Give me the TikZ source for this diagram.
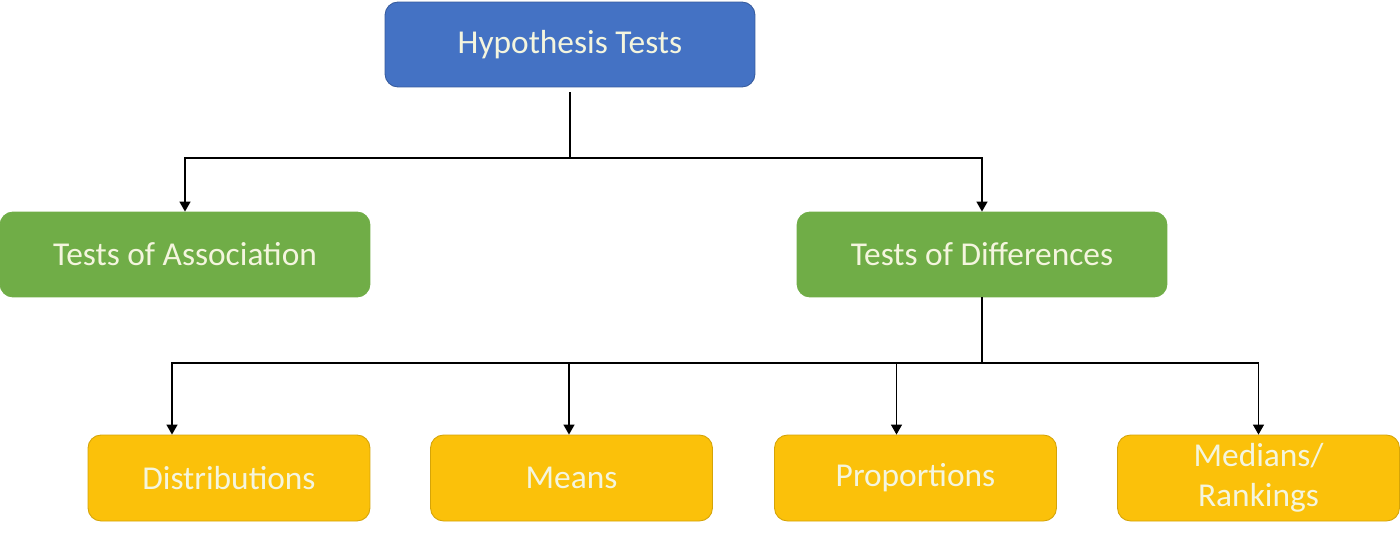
\documentclass[tikz,border=0pt]{standalone}
\usepackage{fontspec}
\setmainfont{Carlito}
\usepackage{xcolor}
\usetikzlibrary{arrows.meta}
\usetikzlibrary{calc}
\usetikzlibrary{positioning}

\definecolor{hblue}{RGB}{68,114,196}
\definecolor{hgreen}{RGB}{112,173,71}
\definecolor{horange}{RGB}{251,193,10}
\definecolor{hcream}{RGB}{244,245,222}

\begin{document}
\begin{tikzpicture}[x=0.02cm, y=-0.02cm, >={Triangle[width=0.22cm,length=0.2cm]},
	line width=0.8pt,
	box/.style={rectangle, rounded corners=0.26cm, text=hcream, align=center,
		font=\fontsize{19}{23}\selectfont, line width=0.5pt},
	top/.style={box, fill=hblue, draw=hblue!80!black, minimum width=7.4cm, minimum height=1.7cm},
	mid/.style={box, fill=hgreen, draw=hgreen, minimum width=7.4cm, minimum height=1.7cm},
	leaf/.style={box, fill=horange, draw=horange!85!black, minimum width=5.64cm, minimum height=1.72cm},
]
\useasboundingbox (0,0) rectangle (1400,538);
\node [top]  (hyp)   at (570,44.5)   {Hypothesis Tests};
\node [mid]  (assoc) at (185,254.5)  {Tests of Association};
\node [mid]  (diff)  at (982,254.5)  {Tests of Differences};
\node [leaf] (dist)  at (229,478)    {Distributions};
\node [leaf] (means) at (571.5,478)  {Means};
\node [leaf] (prop)  at (915.5,478)  {Proportions};
\node [leaf] (med)   at (1258.5,478) {Medians/\\Rankings};
%
\coordinate (bus1) at (570,158);
\coordinate (bus2) at (982,363);
%
\draw ([yshift=-0.1cm]hyp.south) -- (bus1);
\draw [->] (bus1) -| (assoc.north);
\draw [->] (bus1) -| (diff.north);
\draw (diff.south) -- (bus2);
\draw [->] (bus2) -| ([xshift=-1.14cm]dist.north);
\draw [->] (bus2) -| ([xshift=-0.05cm]means.north);
\draw [->] (bus2) -| ([xshift=-0.38cm]prop.north);
\draw [->] (bus2) -| (med.north);
\end{tikzpicture}
\end{document}
